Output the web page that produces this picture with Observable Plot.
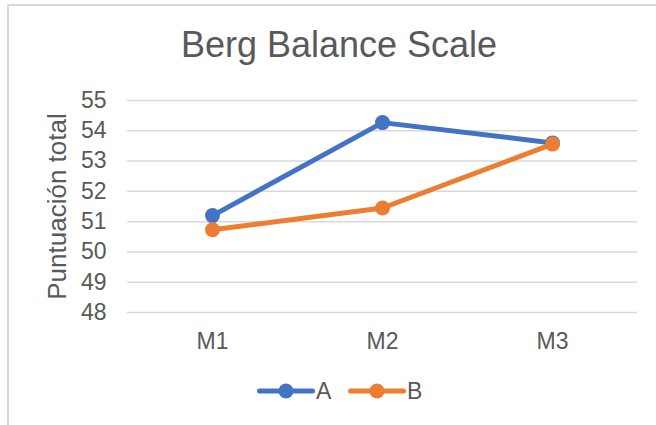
<!DOCTYPE html>
<html><head><meta charset="utf-8">
<script src="https://cdn.jsdelivr.net/npm/d3@7"></script>
<script src="https://cdn.jsdelivr.net/npm/@observablehq/plot@0.6"></script>
<style>
body{margin:0;background:#fff;font-family:"Liberation Sans",Arial,sans-serif;}
#wrap{position:relative;width:656px;height:425px;overflow:hidden;background:#fff;}
#frame{position:absolute;left:7px;top:4px;width:700px;height:500px;border-left:2px solid #D9D9D9;border-top:2px solid #D9D9D9;z-index:2;pointer-events:none;}
#title{position:absolute;left:0;width:678px;top:27px;text-align:center;font-size:36px;line-height:36px;color:#595959;z-index:3;}
#chart{position:absolute;left:0;top:0;}
.leg{position:absolute;}
.legtxt{position:absolute;font-size:23px;line-height:23px;color:#595959;}
</style>
</head><body>
<div id="wrap">
  <div id="frame"></div>
  <div id="title">Berg Balance Scale</div>
  <div id="chart"></div>
</div>
<script>
const categories = ["M1", "M2", "M3"];
const seriesNames = ["A", "B"];
const seriesA = [51.2, 54.27, 53.6];
const seriesB = [50.73, 51.45, 53.56];
const yTicks = [48, 49, 50, 51, 52, 53, 54, 55];
const colors = ["#4472C4", "#ED7D31"];

const rows = [
  ...categories.map((c, i) => ({cat: c, v: seriesA[i], s: "A"})),
  ...categories.map((c, i) => ({cat: c, v: seriesB[i], s: "B"}))
];

const plot = Plot.plot({
  width: 656,
  height: 360,
  marginLeft: 127,
  marginRight: 19,
  marginTop: 100,
  marginBottom: 48,
  style: {background: "transparent", fontFamily: "Liberation Sans, Arial, sans-serif", color: "#595959"},
  x: {type: "point", domain: categories, padding: 0.5, label: null},
  y: {domain: [48, 55], label: null},
  color: {domain: seriesNames, range: colors},
  marks: [
    Plot.gridY(yTicks, {stroke: "#D9D9D9", strokeOpacity: 1, strokeWidth: 1.5}),
    Plot.axisY(yTicks, {tickSize: 0, tickPadding: 21, fontSize: 23, fill: "#595959", label: null}),
    Plot.axisX({tickSize: 0, tickPadding: 20, fontSize: 23, fill: "#595959", label: null}),
    Plot.text(["Puntuación total"], {frameAnchor: "left", dx: -70, rotate: -90, textAnchor: "middle", fontSize: 26, fill: "#595959"}),
    Plot.line(rows, {x: "cat", y: "v", z: "s", stroke: "s", strokeWidth: 5, strokeLinecap: "round", strokeLinejoin: "round"}),
    Plot.dot(rows, {x: "cat", y: "v", fill: "s", r: 7.5})
  ]
});
document.getElementById("chart").appendChild(plot);

// legend
const wrap = d3.select("#wrap");
const legItems = [
  {name: seriesNames[0], color: colors[0], x: 257, tx: 316},
  {name: seriesNames[1], color: colors[1], x: 348, tx: 407}
];
legItems.forEach(it => {
  const svg = wrap.append("svg").attr("class", "leg")
    .style("left", it.x + "px").style("top", "381px")
    .attr("width", 58).attr("height", 20);
  svg.append("line").attr("x1", 2.5).attr("x2", 55.5).attr("y1", 10).attr("y2", 10)
    .attr("stroke", it.color).attr("stroke-width", 5).attr("stroke-linecap", "round");
  svg.append("circle").attr("cx", 29).attr("cy", 10).attr("r", 7.5).attr("fill", it.color);
  wrap.append("div").attr("class", "legtxt")
    .style("left", it.tx + "px").style("top", "380px").text(it.name);
});
</script>
</body></html>
